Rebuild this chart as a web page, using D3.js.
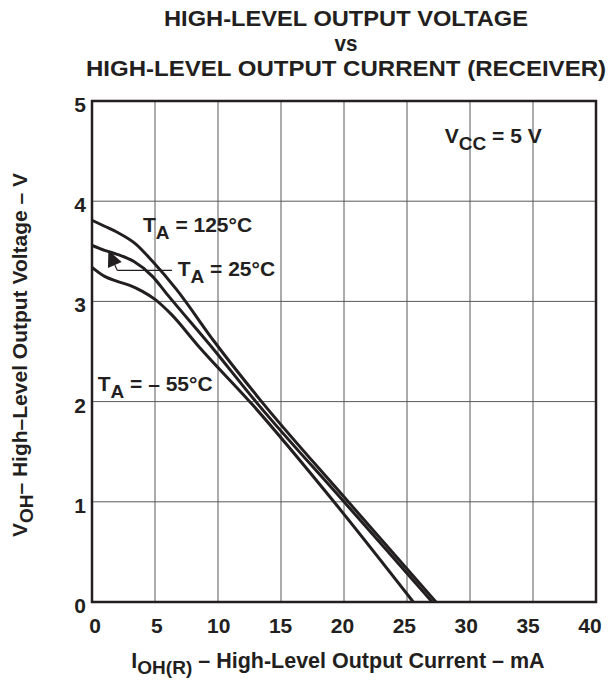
<!DOCTYPE html>
<html lang="en">
<head>
	<meta charset="UTF-8">
	<title>VOH vs IOH (receiver)</title>
	<script src="https://d3js.org/d3.v7.min.js"></script>
	<style type="text/css">
		body { margin: 0; background: #fff; }
		text { font-family: "Liberation Sans", Arial, sans-serif; font-weight: bold; fill: #231f20; }
		.grid line { stroke: #58595b; stroke-width: 1; }
		.curve { fill: none; stroke: #231f20; stroke-width: 3; }
	</style>
</head>
<body>
<script type="text/javascript">

	// ticks
	var xTicks = [0, 5, 10, 15, 20, 25, 30, 35, 40];
	var yTicks = [0, 1, 2, 3, 4, 5];

	// curves: [mA, V]
	var curveM55 = [[0, 3.34], [1, 3.25], [2, 3.2], [3, 3.16], [4, 3.1], [5, 3.02], [6.3, 2.87], [8.4, 2.56], [12.8, 1.96], [19.2, 1.0], [25.5, 0]];
	var curve25 = [[0, 3.56], [1, 3.51], [2, 3.47], [3.3, 3.4], [4.8, 3.25], [5.9, 3.08], [9.4, 2.56], [13, 2.0], [20, 1.0], [27, 0]];
	var curve125 = [[0, 3.81], [1, 3.75], [2, 3.69], [3.5, 3.57], [4.8, 3.4], [6.7, 3.12], [9.7, 2.6], [13.2, 2.04], [20.2, 1.02], [27.3, 0]];

	// labels: [mA, V, main, sub, rest]
	var labels = [
		[4.05, 3.69, 'T', 'A', ' = 125°C'],
		[6.8, 3.25, 'T', 'A', ' = 25°C'],
		[0.45, 2.11, 'T', 'A', ' = – 55°C'],
		[28.0, 4.58, 'V', 'CC', ' = 5 V']
	];
	// leader for the 25°C label: tip, elbow, end
	var leader = [[1.3, 3.51], [2.0, 3.31], [6.35, 3.31]];

	var title = ['HIGH-LEVEL OUTPUT VOLTAGE', 'vs', 'HIGH-LEVEL OUTPUT CURRENT (RECEIVER)'];
	var titleWidth = [364, 23, 520];

	var margin = {top: 101, left: 92, bottom: 78, right: 12};
	var W = 608, H = 680;
	var width = W - margin.left - margin.right;
	var height = H - margin.top - margin.bottom;

	var svg = d3.select('body').append('svg')
		.attr('width', W)
		.attr('height', H);

	var x = d3.scaleLinear().domain([0, 40]).range([margin.left, margin.left + width]);
	var y = d3.scaleLinear().domain([0, 5]).range([margin.top + height, margin.top]);
	// tick labels sit slightly inside the frame at both ends
	var xLab = d3.scaleLinear().domain([0, 40]).range([x(0) + 3, x(40) - 6]);

	// title
	svg.selectAll('.title')
		.data(title)
		.enter().append('text')
		.attr('class', 'title')
		.attr('x', 346)
		.attr('y', function (d, i) { return 26 + i * 25; })
		.attr('text-anchor', 'middle')
		.attr('textLength', function (d, i) { return titleWidth[i]; })
		.attr('lengthAdjust', 'spacingAndGlyphs')
		.style('font-size', '22px')
		.text(function (d) { return d; });

	// grid
	var grid = svg.append('g').attr('class', 'grid');
	grid.selectAll('.vx')
		.data(xTicks.slice(1, -1))
		.enter().append('line')
		.attr('x1', function (d) { return x(d); })
		.attr('x2', function (d) { return x(d); })
		.attr('y1', y(0))
		.attr('y2', y(5));
	grid.selectAll('.hy')
		.data(yTicks.slice(1, -1))
		.enter().append('line')
		.attr('y1', function (d) { return y(d); })
		.attr('y2', function (d) { return y(d); })
		.attr('x1', x(0))
		.attr('x2', x(40));

	// frame
	svg.append('rect')
		.attr('x', x(0))
		.attr('y', y(5))
		.attr('width', x(40) - x(0))
		.attr('height', y(0) - y(5))
		.style('fill', 'none')
		.style('stroke', '#231f20')
		.style('stroke-width', 2.5);

	// tick labels
	svg.selectAll('.xt')
		.data(xTicks)
		.enter().append('text')
		.attr('x', function (d) { return xLab(d); })
		.attr('y', y(0) + 31)
		.attr('text-anchor', 'middle')
		.style('font-size', '21px')
		.text(function (d) { return d; });
	svg.selectAll('.yt')
		.data(yTicks)
		.enter().append('text')
		.attr('x', x(0) - 6)
		.attr('y', function (d) { return y(d) + 11; })
		.attr('text-anchor', 'end')
		.style('font-size', '21px')
		.text(function (d) { return d; });

	// axis titles
	var xl = svg.append('text')
		.attr('x', 338)
		.attr('y', 668)
		.attr('text-anchor', 'middle')
		.style('font-size', '21.5px');
	xl.append('tspan').text('I');
	xl.append('tspan').attr('dy', 6).style('font-size', '19px').text('OH(R)');
	xl.append('tspan').attr('dy', -6).text(' – High-Level Output Current – mA');

	var yl = svg.append('text')
		.attr('transform', 'translate(27,355) rotate(-90)')
		.attr('text-anchor', 'middle')
		.style('font-size', '21px');
	yl.append('tspan').text('V');
	yl.append('tspan').attr('dy', 6).style('font-size', '19px').text('OH');
	yl.append('tspan').attr('dy', -6).text('– High–Level Output Voltage – V');

	// curves
	var line = d3.line()
		.x(function (d) { return x(d[0]); })
		.y(function (d) { return y(d[1]); })
		.curve(d3.curveMonotoneX);

	svg.selectAll('.curve')
		.data([curveM55, curve25, curve125])
		.enter().append('path')
		.attr('class', 'curve')
		.attr('d', line);

	// leader + arrow
	svg.append('path')
		.attr('d', d3.line()
			.x(function (d) { return x(d[0]); })
			.y(function (d) { return y(d[1]); })(leader.slice(1)))
		.style('fill', 'none')
		.style('stroke', '#231f20')
		.style('stroke-width', 1.2);
	var tip = [x(leader[0][0]), y(leader[0][1])];
	var elb = [x(leader[1][0]), y(leader[1][1])];
	var dx = tip[0] - elb[0], dy = tip[1] - elb[1];
	var len = Math.sqrt(dx * dx + dy * dy);
	var ux = dx / len, uy = dy / len;
	var hl = 16, hw = 7.5;
	var bx = tip[0] - ux * hl, by = tip[1] - uy * hl;
	svg.append('line')
		.attr('x1', elb[0]).attr('y1', elb[1])
		.attr('x2', bx).attr('y2', by)
		.style('stroke', '#231f20')
		.style('stroke-width', 1.2);
	svg.append('polygon')
		.attr('points', [
			[tip[0], tip[1]],
			[bx - uy * hw, by + ux * hw],
			[bx + uy * hw, by - ux * hw]
		].map(function (p) { return p.join(','); }).join(' '))
		.style('fill', '#231f20');

	// labels
	labels.forEach(function (d) {
		var t = svg.append('text')
			.attr('x', x(d[0]))
			.attr('y', y(d[1]))
			.style('font-size', '21px');
		t.append('tspan').text(d[2]);
		t.append('tspan').attr('dy', 7).style('font-size', '19px').text(d[3]);
		t.append('tspan').attr('dy', -7).text(d[4]);
	});

</script>
</body>
</html>
